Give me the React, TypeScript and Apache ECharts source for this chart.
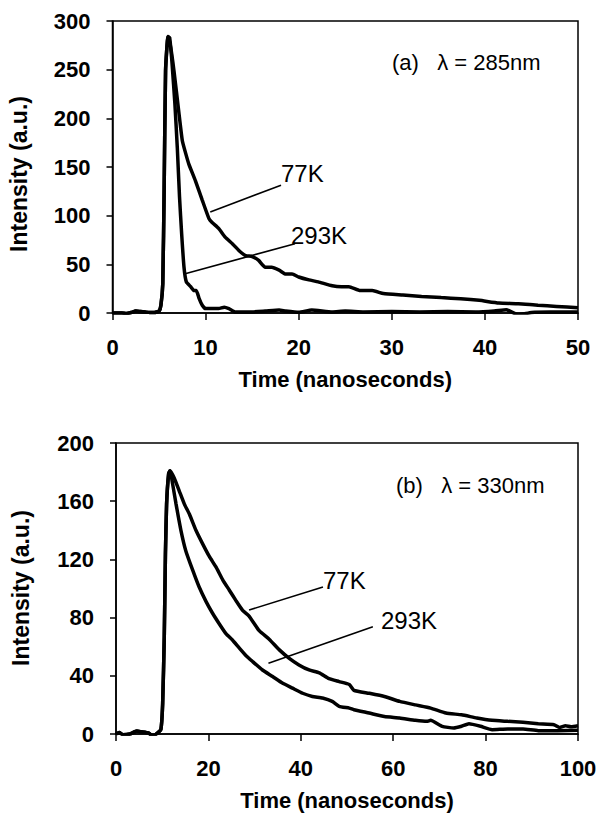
import React, { useEffect, useRef } from "react";
import * as echarts from "echarts";

// ---------- Panel (a): lambda = 285 nm ----------
const aXTicks = [0, 10, 20, 30, 40, 50];
const aYTicks = [0, 50, 100, 150, 200, 250, 300];

const a77Time = [0, 1, 1.5, 2, 2.5, 3, 3.5, 4, 4.5, 5, 5.2, 5.4, 5.55, 5.7, 5.96, 6.25, 6.6, 7.14, 7.5, 7.86, 8.2, 8.9, 9.64, 10.36, 10.7, 11.4, 12.1, 12.9, 13.6, 14.3, 15, 15.7, 16.4, 17.1, 17.9, 18.6, 19.3, 20, 21.1, 22.1, 23.6, 24.6, 25.4, 26.6, 27.9, 29.1, 31.2, 33.2, 35.3, 37.4, 39.4, 41.5, 43.6, 45.7, 47.7, 50];
const a77Val = [0, 0, -0.5, 0.5, 2, 1.5, 1, 0.5, 0.5, 2, 8, 30, 129, 249, 284, 273, 249, 205, 177, 164, 153, 136, 116, 97, 93, 87, 78, 71, 64, 59, 58, 54, 47, 47, 44, 40, 40, 37, 34, 32, 28, 27, 27, 23, 23, 20, 18.5, 17, 15.8, 14.7, 13, 10.3, 9.6, 7.9, 6.8, 5.5];

const a293Time = [0, 1, 1.5, 2, 2.5, 3, 3.5, 4, 4.5, 5, 5.2, 5.4, 5.55, 5.7, 5.96, 6.14, 6.4, 6.7, 6.96, 7.2, 7.43, 7.68, 7.93, 8.4, 8.75, 9.0, 9.3, 9.64, 10, 10.7, 11.4, 12, 12.5, 13.2, 14.6, 16.4, 17.9, 18.6, 20, 21.4, 23.6, 25, 27, 30, 33, 36, 39, 41, 42.3, 43.6, 45, 47, 50];
const a293Val = [0, 0, -0.5, 0.5, 2, 1.5, 1, 0.5, 0.5, 2, 8, 30, 129, 249, 284, 283, 256, 215, 170, 119, 81, 47, 32, 27, 23, 23, 15, 8, 4.5, 4.5, 4.5, 6, 4.5, 1, 1, 2, 3, 2, 0.7, 3, 1, 2, 1, 1.5, 1, 1.5, 1, 2, 3.4, -2, 0.5, 1, 1];

// ---------- Panel (b): lambda = 330 nm ----------
const bXTicks = [0, 20, 40, 60, 80, 100];
const bYTicks = [0, 40, 80, 120, 160, 200];

const b77Time = [0, 0.7, 1.5, 3, 4.5, 5.5, 7, 8, 8.7, 9.7, 10.1, 10.45, 10.7, 10.95, 11.4, 11.7, 12.6, 13.7, 14.8, 15.9, 17.3, 18.7, 20.2, 21.6, 23.1, 24.5, 25.9, 27.4, 28.8, 31, 33.2, 35.3, 37.5, 39.6, 41.8, 44, 46.1, 48.3, 50.5, 51.5, 54.8, 58.1, 61.4, 64.8, 68.1, 71.4, 74.8, 78.1, 81.4, 84.8, 88.1, 91.4, 94.8, 96, 97.3, 98.5, 100];
const b77Val = [0, 1, -0.5, 0, 2, 1.5, 0.7, -1.6, 0, 3, 21, 67, 124, 158, 179, 181, 176, 167, 158, 151, 140, 131, 122, 115, 106, 99, 92, 85, 81, 71, 65, 58, 52, 47.5, 44, 42, 38, 36, 34, 30, 28, 25.8, 22.4, 20, 17.8, 14.4, 13.2, 11, 9.4, 8.7, 8, 7, 6.4, 4.5, 5.7, 5, 5.7];

const b293Time = [0, 0.7, 1.5, 3, 4.5, 5.5, 7, 8, 8.7, 9.7, 10.1, 10.45, 10.7, 10.95, 11.4, 11.7, 12.25, 13, 14.05, 15.1, 16.6, 18, 19.5, 20.9, 22.3, 23.8, 25.2, 26.7, 28.1, 29.5, 31.7, 33.9, 36, 38.2, 40.4, 42.5, 44.7, 46.8, 48.3, 50.5, 51.5, 54.8, 58.1, 61.4, 64.8, 67.3, 68.1, 70.6, 73.1, 74.8, 76.4, 78.9, 81.4, 84.8, 88.1, 91.4, 95.6, 100];
const b293Val = [0, 1, -0.5, 0, 2, 1.5, 0.7, -1.6, 0, 3, 21, 67, 124, 158, 179, 181, 172, 158, 140, 126, 112.6, 101, 91, 83, 76, 69, 64.6, 59, 54, 50, 44, 39.5, 35, 31.5, 28, 25.8, 24.7, 22.4, 19, 17.8, 16.7, 14.4, 12, 11, 9.4, 8.7, 9.4, 5.3, 4.1, 5.3, 7, 5.3, 3, 3.4, 3.4, 2.3, 2.3, 2.5];

// leader lines (data coordinates): [x0, y0, x1, y1]
const aLeader77 = [10.5, 103.8, 18.1, 131.2];
const aLeader293 = [7.8, 40.4, 19.6, 71.2];
const bLeader77 = [28.8, 85.2, 44.8, 101.1];
const bLeader293 = [33.0, 48.6, 55.6, 73.7];

const X_TITLE = "Time (nanoseconds)";
const Y_TITLE = "Intensity (a.u.)";

const FONT = "'Liberation Sans', Arial, Helvetica, sans-serif";

function zip(t: number[], v: number[]) {
  return t.map((x, i) => [x, v[i]]);
}

function leader(l: number[]) {
  return [[{ coord: [l[0], l[1]] }, { coord: [l[2], l[3]] }]];
}

function xAxisDef(grid: number, ticks: number[]) {
  return {
    type: "value",
    gridIndex: grid,
    min: ticks[0],
    max: ticks[ticks.length - 1],
    interval: ticks[1] - ticks[0],
    name: X_TITLE,
    nameLocation: "middle",
    nameGap: 55,
    nameTextStyle: { fontFamily: FONT, fontSize: 22, fontWeight: "bold", color: "#000" },
    axisLine: { show: true, onZero: false, lineStyle: { color: "#000", width: 1.5 } },
    axisTick: { show: true, inside: false, length: 7, lineStyle: { color: "#000", width: 1.5 } },
    axisLabel: { fontFamily: FONT, fontSize: 22, fontWeight: "bold", color: "#000", margin: 23 },
    splitLine: { show: false },
  };
}

function yAxisDef(grid: number, ticks: number[]) {
  return {
    type: "value",
    gridIndex: grid,
    min: ticks[0],
    max: ticks[ticks.length - 1],
    interval: ticks[1] - ticks[0],
    axisLine: { show: true, onZero: false, lineStyle: { color: "#000", width: 1.5 } },
    axisTick: { show: true, inside: false, length: 6, lineStyle: { color: "#000", width: 1.5 } },
    axisLabel: { fontFamily: FONT, fontSize: 22, fontWeight: "bold", color: "#000", margin: 22 },
    splitLine: { show: false },
  };
}

function curve(name: string, idx: number, t: number[], v: number[], lead: number[]) {
  return {
    type: "line",
    name,
    xAxisIndex: idx,
    yAxisIndex: idx,
    data: zip(t, v),
    showSymbol: false,
    symbol: "none",
    smooth: 0.15,
    lineStyle: { color: "#000", width: 3.5 },
    z: 3,
    markLine: {
      silent: true,
      symbol: ["none", "none"],
      label: { show: false },
      lineStyle: { color: "#000", width: 1.6, type: "solid" },
      data: leader(lead),
    },
  };
}

function txt(text: string, x: number, y: number, size: number, weight: string) {
  return {
    type: "text",
    x,
    y,
    style: { text, fontFamily: FONT, fontSize: size, fontWeight: weight, fill: "#000", align: "left", verticalAlign: "middle" },
  };
}

function yName(x: number, y: number) {
  return {
    type: "text",
    x,
    y,
    rotation: Math.PI / 2,
    style: { text: Y_TITLE, fontFamily: FONT, fontSize: 23, fontWeight: "bold", fill: "#000", align: "center", verticalAlign: "middle" },
  };
}

export default function App() {
  const ref = useRef<HTMLDivElement>(null);
  useEffect(() => {
    if (!ref.current) return;
    const chart = echarts.init(ref.current, null, { renderer: "svg" });
    chart.setOption({
      animation: false,
      backgroundColor: "#fff",
      grid: [
        { left: 112.5, right: 25, top: 21, height: 292, show: true, borderColor: "#000", borderWidth: 1.5, backgroundColor: "transparent" },
        { left: 116, right: 25, top: 443, height: 291, show: true, borderColor: "#000", borderWidth: 1.5, backgroundColor: "transparent" },
      ],
      xAxis: [xAxisDef(0, aXTicks), xAxisDef(1, bXTicks)],
      yAxis: [yAxisDef(0, aYTicks), yAxisDef(1, bYTicks)],
      series: [
        curve("77K", 0, a77Time, a77Val, aLeader77),
        curve("293K", 0, a293Time, a293Val, aLeader293),
        curve("77K", 1, b77Time, b77Val, bLeader77),
        curve("293K", 1, b293Time, b293Val, bLeader293),
      ],
      graphic: [
        yName(19, 174),
        yName(21, 588),
        txt("(a)   \u03bb = 285nm", 392, 62, 22, "normal"),
        txt("77K", 281, 173, 24, "normal"),
        txt("293K", 291, 235, 24, "normal"),
        txt("(b)   \u03bb = 330nm", 396, 485, 22, "normal"),
        txt("77K", 323, 580, 24, "normal"),
        txt("293K", 381, 620, 24, "normal"),
      ],
    });
    return () => chart.dispose();
  }, []);
  return (
    <div
      ref={ref}
      style={{ position: "fixed", left: 0, top: 0, width: 603, height: 818, background: "#fff" }}
    />
  );
}
